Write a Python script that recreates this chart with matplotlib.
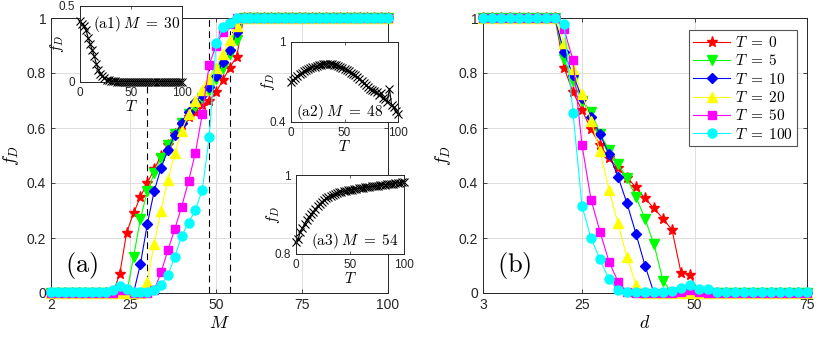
import matplotlib
matplotlib.use("Agg")
import matplotlib.pyplot as plt

plt.rcParams['font.family'] = ['Liberation Sans', 'DejaVu Sans']
plt.rcParams['mathtext.fontset'] = 'cm'

# panel (a): f_D vs M for several T
M = [2, 4, 6, 8, 10, 12, 14, 16, 18, 20,
     22, 24, 26, 28, 30, 32, 34, 36, 38, 40, 42, 44, 46, 48, 50, 52, 54, 56, 58,
     60, 62, 64, 66, 68, 70, 72, 74, 76, 78, 80, 82, 84, 86, 88, 90, 92, 94, 96, 98, 100]
fa_T0 = [0, 0, 0, 0, 0, 0, 0, 0, 0, 0,
         .07, .22, .29, .35, .40, .45, .50, .54, .58, .61, .64, .66, .685, .70, .73, .775, .82, .86, 1,
         1, 1, 1, 1, 1, 1, 1, 1, 1, 1, 1, 1, 1, 1, 1, 1, 1, 1, 1, 1, 1]
fa_T5 = [0, 0, 0, 0, 0, 0, 0, 0, 0, 0,
         0, 0, .13, .27, .37, .435, .49, .54, .58, .62, .65, .68, .71, .74, .78, .82, .87, .92, 1,
         1, 1, 1, 1, 1, 1, 1, 1, 1, 1, 1, 1, 1, 1, 1, 1, 1, 1, 1, 1, 1]
fa_T10 = [0, 0, 0, 0, 0, 0, 0, 0, 0, 0,
          0, 0, 0, .105, .25, .37, .455, .52, .575, .62, .66, .695, .72, .75, .79, .84, .885, .95, 1,
          1, 1, 1, 1, 1, 1, 1, 1, 1, 1, 1, 1, 1, 1, 1, 1, 1, 1, 1, 1, 1]
fa_T20 = [0, 0, 0, 0, 0, 0, 0, 0, 0, 0,
          0, 0, 0, 0, .04, .18, .30, .41, .51, .59, .65, .70, .74, .78, .82, .87, .92, .97, 1,
          1, 1, 1, 1, 1, 1, 1, 1, 1, 1, 1, 1, 1, 1, 1, 1, 1, 1, 1, 1, 1]
fa_T50 = [0, 0, 0, 0, 0, 0, 0, 0, 0, 0,
          .01, .01, 0, 0, 0, .01, .075, .156, .233, .314, .407, .51, .651, .83, .90, .95, .98, 1, 1,
          1, 1, 1, 1, 1, 1, 1, 1, 1, 1, 1, 1, 1, 1, 1, 1, 1, 1, 1, 1, 1]
fa_T100 = [.005, .005, .005, .005, .005, .005, .005, .005, .005, .01,
           .025, .015, .005, .005, .005, .01, .03, .065, .132, .207, .256, .302, .375, .566, .908, .966, .983, 1, 1,
           1, 1, 1, 1, 1, 1, 1, 1, 1, 1, 1, 1, 1, 1, 1, 1, 1, 1, 1, 1, 1]

# panel (b): f_D vs d
d = [3, 5, 7, 9, 11, 13, 15, 17, 19,
     21, 23, 25, 27, 29, 31, 33, 35, 37, 39, 41, 43, 45, 47, 49, 51, 53,
     55, 57, 59, 61, 63, 65, 67, 69, 71, 73, 75]
fb_T0 = [1, 1, 1, 1, 1, 1, 1, 1, 1,
         .82, .73, .665, .595, .538, .49, .453, .42, .384, .344, .308, .27, .23, .074, .066, 0, 0,
         0, 0, 0, 0, 0, 0, 0, 0, 0, 0, 0]
fb_T5 = [1, 1, 1, 1, 1, 1, 1, 1, 1,
         .85, .77, .70, .66, .58, .52, .47, .417, .35, .27, .177, .045, 0, 0, 0, 0, 0,
         0, 0, 0, 0, 0, 0, 0, 0, 0, 0, 0]
fb_T10 = [1, 1, 1, 1, 1, 1, 1, 1, 1,
          .875, .793, .71, .64, .577, .505, .423, .326, .215, .10, 0, 0, 0, 0, 0, 0, 0,
          0, 0, 0, 0, 0, 0, 0, 0, 0, 0, 0]
fb_T20 = [1, 1, 1, 1, 1, 1, 1, 1, 1,
          .91, .813, .724, .627, .517, .375, .253, .13, .03, 0, 0, 0, 0, 0, 0, 0, 0,
          0, 0, 0, 0, 0, 0, 0, 0, 0, 0, 0]
fb_T50 = [1, 1, 1, 1, 1, 1, 1, 1, 1,
          .96, .847, .538, .34, .223, .114, .041, .003, 0, 0, 0, 0, 0, .005, .01, .005, 0,
          0, 0, 0, 0, 0, 0, 0, 0, 0, 0, 0]
fb_T100 = [1, 1, 1, 1, 1, 1, 1, 1, 1,
           .98, .656, .316, .20, .122, .05, .01, .005, .005, .005, .005, .005, .008, .02, .03, .016, .016,
           .005, .005, .005, .005, .005, .005, .005, .005, .005, .005, .005]

# insets: f_D vs T at fixed M
T = list(range(0, 101, 2))
a1_M30 = [.40, .38, .37, .34, .29, .25, .21, .17, .12, .08, .055, .04, .025, .015, .01, .007, .005, .004,
          .003, .003, .003, .003, .003, .003, .003, .003, .003, .003, .003, .003, .003, .003, .003, .003,
          .003, .003, .003, .003, .003, .003, .003, .003, .003, .003, .003, .003, .003, .003, .003, .003, .003]
a2_M48 = [.70, .715, .73, .745, .76, .77, .78, .79, .80, .805, .81, .815, .82, .825, .83, .833, .835, .837,
          .836, .834, .83, .826, .82, .813, .806, .80, .79, .78, .77, .76, .75, .74, .725, .71, .695, .675,
          .66, .65, .64, .63, .625, .60, .62, .58, .57, .55, .65, .53, .51, .48, .46]
a3_M54 = [.831, .838, .856, .866, .876, .885, .893, .90, .907, .915, .921, .927, .932, .937, .941, .945,
          .947, .95, .952, .954, .956, .958, .959, .96, .961, .962, .963, .964, .965, .966, .967, .968,
          .969, .97, .97, .971, .972, .972, .973, .974, .975, .975, .976, .977, .977, .978, .979, .98,
          .981, .982, .983]

T_labels = [r'$T\;=\;0$', r'$T\;=\;5$', r'$T\;=\;10$', r'$T\;=\;20$', r'$T\;=\;50$', r'$T\;=\;100$']
colors = ['#ff0000', '#00ff00', '#0000ff', '#ffff00', '#ff00ff', '#00ffff']
markers = ['*', 'v', 'D', '^', 's', 'o']
msizes = [8, 7, 5.5, 7, 5.5, 6.5]
AXC = '#262626'


def style_axes(ax, fs=10):
    for s in ax.spines.values():
        s.set_color(AXC)
        s.set_linewidth(0.7)
    ax.tick_params(direction='in', length=3, width=0.6, colors=AXC, labelsize=fs,
                   top=True, right=True, labelcolor='#262626')
    ax.grid(True, color='#dfdfdf', linewidth=0.7)
    ax.set_axisbelow(True)


def draw_curves(ax, x, series):
    for y, c, m, ms, lab in zip(series, colors, markers, msizes, T_labels):
        ax.plot(x, y, color=c, marker=m, markersize=ms, markeredgecolor=c,
                linewidth=0.8, label=lab, clip_on=False, zorder=3)


def inset(fig, rect, y, ylim, text, tpos):
    ax = fig.add_axes(rect)
    ax.set_facecolor('white')
    ax.plot(T, y, color='k', marker='x', markersize=5.5, markeredgewidth=0.8,
            linewidth=0.8, clip_on=False)
    ax.set_xlim(0, 100)
    ax.set_ylim(*ylim)
    ax.set_xticks([0, 50, 100])
    ax.set_yticks(list(ylim))
    ax.set_yticklabels([('%g' % v) for v in ylim])
    for s in ax.spines.values():
        s.set_color(AXC)
        s.set_linewidth(0.7)
    ax.tick_params(direction='in', length=2, width=0.5, labelsize=8.5, pad=3.5,
                   top=True, right=True, colors=AXC)
    ax.set_xlabel(r'$T$', fontsize=11, labelpad=0)
    ax.set_ylabel(r'$f_D$', fontsize=11, labelpad=-5)
    ax.text(tpos[0], tpos[1], text, transform=ax.transAxes, fontsize=11,
            ha='center', va='center')
    return ax


def main():
    fig = plt.figure(figsize=(8.18, 3.39), dpi=100)
    W, H = 818.0, 339.0

    ax1 = fig.add_axes([51 / W, 46 / H, 337 / W, 275 / H])
    style_axes(ax1)
    for mv in [30, 48, 54]:
        ax1.axvline(mv, color='k', linestyle=(0, (6, 4)), linewidth=0.8, zorder=2)
    draw_curves(ax1, M, [fa_T0, fa_T5, fa_T10, fa_T20, fa_T50, fa_T100])
    ax1.set_xlim(2, 100)
    ax1.set_ylim(0, 1)
    ax1.set_xticks([2, 25, 50, 75, 100])
    ax1.set_yticks([0, 0.2, 0.4, 0.6, 0.8, 1])
    ax1.set_yticklabels(['0', '0.2', '0.4', '0.6', '0.8', '1'])
    ax1.set_xlabel(r'$M$', fontsize=13, labelpad=2)
    ax1.set_ylabel(r'$f_D$', fontsize=13, labelpad=4)
    ax1.text(11, 0.1, r'$\mathrm{(a)}$', fontsize=19, ha='center', va='center')

    ax2 = fig.add_axes([483 / W, 46 / H, 324 / W, 275 / H])
    style_axes(ax2)
    draw_curves(ax2, d, [fb_T0, fb_T5, fb_T10, fb_T20, fb_T50, fb_T100])
    ax2.set_xlim(3, 75)
    ax2.set_ylim(0, 1)
    ax2.set_xticks([3, 25, 50, 75])
    ax2.set_yticks([0, 0.2, 0.4, 0.6, 0.8, 1])
    ax2.set_yticklabels(['0', '0.2', '0.4', '0.6', '0.8', '1'])
    ax2.set_xlabel(r'$d$', fontsize=13, labelpad=2)
    ax2.set_ylabel(r'$f_D$', fontsize=13, labelpad=4)
    ax2.text(10, 0.1, r'$\mathrm{(b)}$', fontsize=19, ha='center', va='center')
    leg = ax2.legend(loc='upper right', bbox_to_anchor=(0.97, 0.955), fontsize=11,
                     fancybox=False, framealpha=1, edgecolor='#555555',
                     handlelength=2.4, handletextpad=0.3, borderpad=0.3,
                     labelspacing=0.22, borderaxespad=0)
    leg.get_frame().set_linewidth(0.8)

    inset(fig, [80 / W, (H - 82) / H, 102 / W, 76 / H], a1_M30, (0, 0.5),
          r'$\mathrm{(a1)}\;M\;=\;30$', (0.55, 0.76))
    inset(fig, [291 / W, (H - 122) / H, 107 / W, 80 / H], a2_M48, (0.4, 1),
          r'$\mathrm{(a2)}\;M\;=\;48$', (0.45, 0.13))
    inset(fig, [296 / W, (H - 254) / H, 108 / W, 79 / H], a3_M54, (0.8, 1),
          r'$\mathrm{(a3)}\;M\;=\;54$', (0.54, 0.16))

    fig.savefig('out.png', dpi=100)
    plt.close(fig)


if __name__ == '__main__':
    main()
